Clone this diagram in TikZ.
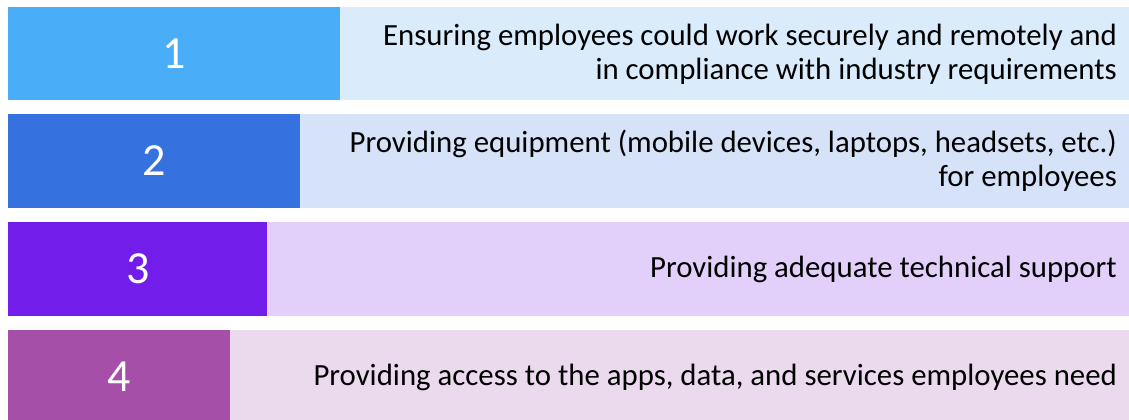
\documentclass[tikz,border=0pt]{standalone}
\usepackage{fontspec}
\setmainfont{Carlito}
\definecolor{blockA}{RGB}{74,173,248}
\definecolor{bandA}{RGB}{218,235,252}
\definecolor{blockB}{RGB}{53,114,224}
\definecolor{bandB}{RGB}{214,226,248}
\definecolor{blockC}{RGB}{115,29,235}
\definecolor{bandC}{RGB}{226,208,250}
\definecolor{blockD}{RGB}{166,79,168}
\definecolor{bandD}{RGB}{235,218,238}
\begin{document}
\begin{tikzpicture}[x=1pt,y=-1pt,
  numtext/.style={text=white,font=\fontsize{46}{50}\selectfont},
  itemtext/.style={anchor=east,align=right,text=black,font=\fontsize{30.8}{34}\selectfont,inner sep=0pt}]
\useasboundingbox (0,0) rectangle (1129,420);
\fill[white] (0,0) rectangle (1129,420);
% light bands
\fill[bandA] (340,7) rectangle (1129,100);
\fill[bandB] (300,114) rectangle (1129,208);
\fill[bandC] (267,222) rectangle (1129,316);
\fill[bandD] (230,330) rectangle (1129,420);
% coloured number blocks
\fill[blockA] (8,7) rectangle (340,100);
\fill[blockB] (8,114) rectangle (300,208);
\fill[blockC] (8,222) rectangle (267,316);
\fill[blockD] (8,330) rectangle (230,420);
\node[numtext] (n1) at (174,54) {1};
\node[numtext] (n2) at (154,161) {2};
\node[numtext] (n3) at (138,269) {3};
\node[numtext] (n4) at (119,377) {4};
% item descriptions
\node[itemtext] (t1) at (1117,54) {Ensuring employees could work securely and remotely and\\in compliance with industry requirements};
\node[itemtext] (t2) at (1117,161) {Providing equipment (mobile devices, laptops, headsets, etc.)\\for employees};
\node[itemtext] (t3) at (1117,269) {Providing adequate technical support};
\node[itemtext] (t4) at (1117,377) {Providing access to the apps, data, and services employees need};
\end{tikzpicture}
\end{document}
